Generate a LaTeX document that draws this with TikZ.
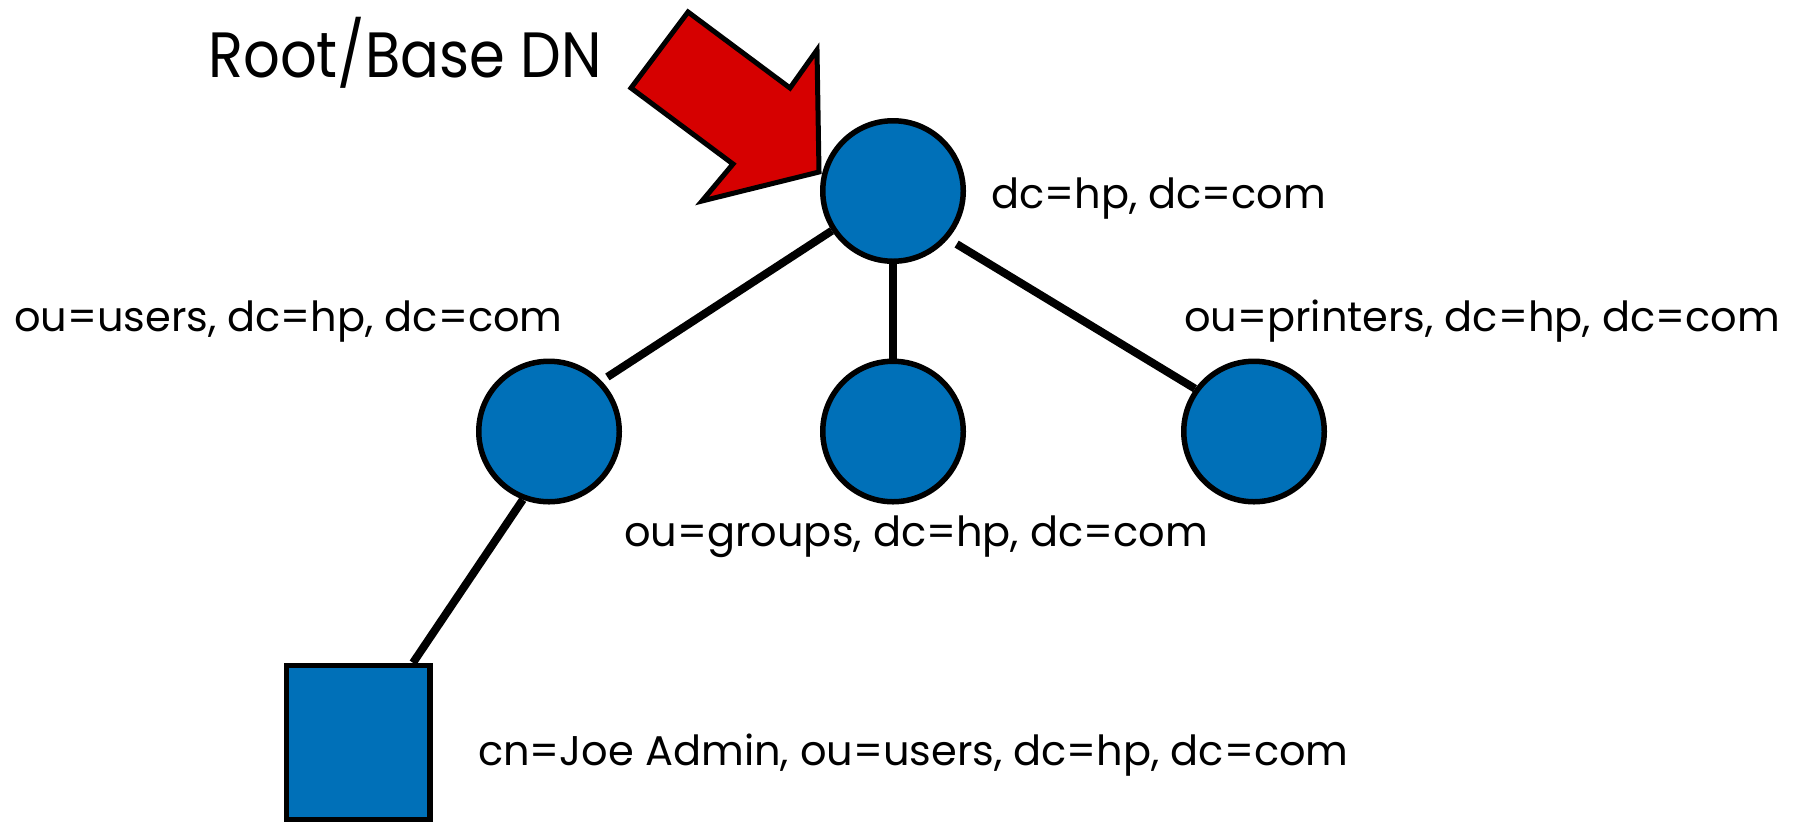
\documentclass[tikz,border=0pt]{standalone}
\usepackage{fontspec}
\setmainfont{Poppins}
\newfontfamily\narrowfont{Poppins}[FakeStretch=0.9]
\definecolor{nodeblue}{RGB}{0,112,184}
\definecolor{arrowred}{RGB}{214,0,0}
\begin{document}
\begin{tikzpicture}[x=1pt,y=-1pt,
  entry/.style={circle,draw=black,fill=nodeblue,line width=5.5pt,minimum size=140.5pt,inner sep=0pt},
  leafbox/.style={rectangle,draw=black,fill=nodeblue,line width=5.5pt,minimum width=143.5pt,minimum height=154pt,inner sep=0pt},
  link/.style={line width=8pt,draw=black},
  dnlabel/.style={anchor=base west,inner sep=0pt,font=\fontsize{41.5}{50}\selectfont},
  biglabel/.style={anchor=base west,inner sep=0pt,font=\narrowfont\fontsize{64}{76}\selectfont}]
\useasboundingbox (0,0) rectangle (1798,823);
% nodes
\node[entry] (root) at (893,191) {};
\node[entry] (users) at (549,431.5) {};
\node[entry] (groups) at (893,431.5) {};
\node[entry] (printers) at (1254,431.5) {};
\node[leafbox] (joe) at (358,742.5) {};
% connectors
\draw[link,shorten >=7pt] (root.213) -- (users.44);
\draw[link] (root.south) -- (groups.north);
\draw[link,shorten <=10pt] (root.319) -- (printers.144.5);
\draw[link] (users.249) -- ([xshift=55pt]joe.north);
% arrow
\draw[fill=arrowred,line width=5pt,line join=miter] (688,12) -- (790,88) -- (817,50) -- (819,172) -- (702,201) -- (733,164) -- (631,88) -- cycle;
% labels
\node[biglabel] (rootlbl) at (208,77) {Root/Base DN};
\node[dnlabel] (lroot) at (991,208) {dc=hp, dc=com};
\node[dnlabel] (lusers) at (14,331) {ou=users, dc=hp, dc=com};
\node[dnlabel] (lprinters) at (1184,331) {ou=printers, dc=hp, dc=com};
\node[dnlabel] (lgroups) at (624,546) {ou=groups, dc=hp, dc=com};
\node[dnlabel] (ljoe) at (478,765) {cn=Joe Admin, ou=users, dc=hp, dc=com};
\end{tikzpicture}
\end{document}
